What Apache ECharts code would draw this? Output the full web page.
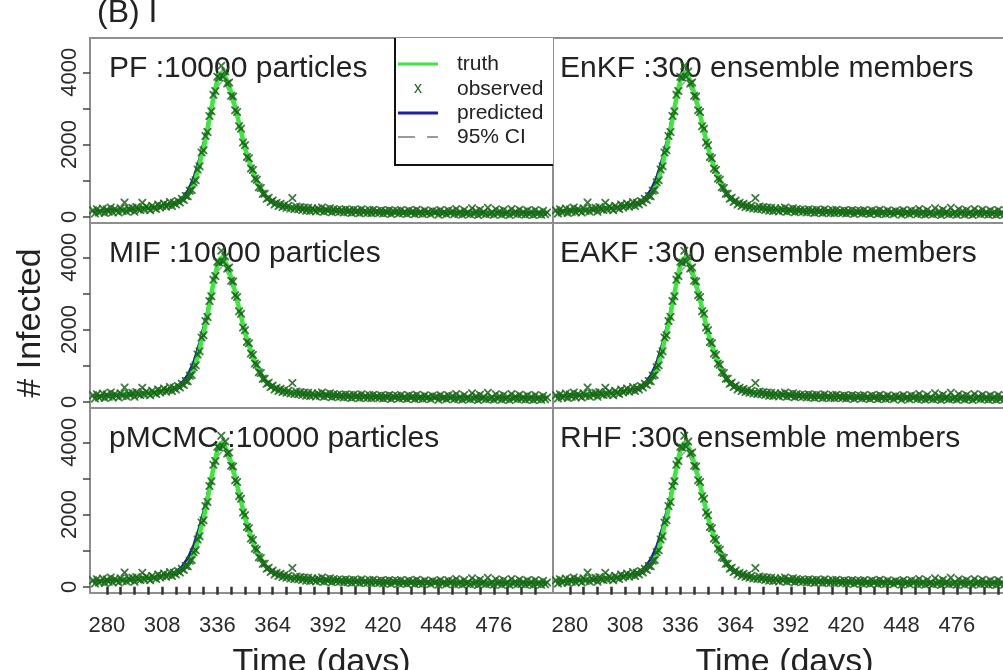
<!DOCTYPE html>
<html>
<head>
<meta charset="utf-8">
<script src="https://cdn.jsdelivr.net/npm/echarts@6/dist/echarts.min.js"></script>
<style>
  html, body { margin: 0; padding: 0; background: #ffffff; }
  #chart { width: 1003px; height: 670px; }
</style>
</head>
<body>
<div id="chart"></div>
<script>
// ---- data -------------------------------------------------------------
// daily series start at this day
const firstDay = 273;

// simulated number infected (truth), one value per day 273..503
const truth = [
  140,125,150,138,160,148,170,152,176,160, 182,168,190,175,198,182,205,190,212,198,
  220,206,230,214,238,224,246,234,255,244, 265,256,276,268,290,284,305,302,322,330,
  350,372,395,420,448,478,512,552,605,680, 780,905,1060,1245,1460,1700,1900,2150,2420,2700,
  3000,3290,3560,3780,3930,3990,
  3960,3880,3760,3610,3440,3250,3040,2820,2590,2360, 2130,1910,1730,1560,1400,1250,1110,985,870,765,
  675,600,540,490,448,412,382,356,334,316, 302,290,280,270,262,255,248,242,236,230,
  226,220,215,224,210,205,212,198,195,204, 190,186,194,180,178,186,172,170,178,165,
  162,170,158,155,163,150,148,156,145,142, 150,140,138,146,135,134,142,130,129,137,
  127,125,133,123,122,130,120,119,127,118, 116,124,115,114,122,113,112,120,111,110,
  118,110,109,116,108,107,115,106,106,113, 105,104,112,104,103,110,102,102,109,101,
  101,108,100,100,107,99,99,106,99,98, 105,98,98,104,97,97,103,97,96,102,
  96,96,101,95,95,100,95,94,99,94, 94,98,93,93,97,93,92,96,92,92, 95,91,91,94,90
];

// noisy daily observations, days 273..503
const observed = [
  180,95,210,120,150,230,110,205,140,260, 130,215,175,120,240,160,395,150,230,185,
  250,140,275,210,190,390,205,290,230,180, 310,250,220,345,260,300,370,280,330,410,
  300,390,345,440,400,500,470,580,570,720, 740,960,1010,1310,1400,1780,1840,2240,2350,2790,
  2920,3380,3480,3880,3850,4180,
  3880,4020,3690,3720,3350,3330,2950,2900,2510,2440, 2060,1980,1660,1620,1340,1300,1060,1030,820,800,
  640,640,500,530,410,450,340,390,300,360, 270,330,250,310,230,520,220,290,210,270,
  190,260,170,250,160,240,190,150,230,170, 260,140,210,160,240,130,220,150,200,140,
  190,120,210,130,190,110,200,130,180,100, 210,120,170,110,190,100,200,120,160,110,
  180,90,170,110,190,80,160,120,170,90, 190,100,150,80,180,110,160,70,200,90,
  150,80,180,100,140,70,170,120,150,60, 190,90,140,70,180,110,160,70,220,80,
  150,60,190,90,130,70,240,80,160,50, 200,90,140,70,250,80,130,60,210,90,
  160,60,190,80,140,50,220,90,150,70, 200,80,140,60,180,70,150,50,190,80, 130,60,170,70,120
];

// filtered estimates, every 3 days from day 273 to 501
const predStart = 273;
const predStep = 3;

const predictedPF = [
  160,165,175,180,190,195,205,215,228,240, 258,275,300,335,400,510,720,1080,1620,2260,
  3040,3760,3930,3590,3020,2350,1720,1240,870,610, 455,360,305,272,250,232,218,206,196,187,
  178,170,163,157,151,146,141,137,133,129, 126,123,120,118,116,114,112,110,108,107,
  105,104,103,102,101,100,99,98,97,96, 95,95,94,93,93,92,91
];
const predictedEnKF = [
  158,166,174,181,189,196,206,214,229,241, 257,276,301,336,405,520,740,1100,1640,2270,
  3060,3800,3940,3580,3010,2340,1715,1235,868,608, 452,358,304,271,249,231,217,205,195,186,
  177,170,163,157,151,146,141,137,133,129, 126,123,120,118,116,114,112,110,108,107,
  105,104,103,102,101,100,99,98,97,96, 95,95,94,93,93,92,91
];
const predictedMIF = [
  162,164,176,182,188,197,204,216,227,242, 259,274,302,338,410,530,750,1110,1650,2280,
  3050,3750,3900,3620,3030,2360,1725,1245,872,612, 456,361,306,273,251,233,219,207,197,188,
  179,171,164,158,152,147,142,138,134,130, 127,124,121,119,117,115,113,111,109,108,
  106,105,104,103,102,101,100,99,98,97, 96,96,95,94,94,93,92
];
const predictedEAKF = [
  159,165,175,181,190,195,205,215,228,240, 258,275,300,336,400,515,735,1090,1630,2265,
  3045,3770,3935,3585,3015,2345,1718,1238,869,609, 454,359,305,272,250,232,218,206,196,187,
  178,170,163,157,151,146,141,137,133,129, 126,123,120,118,116,114,112,110,108,107,
  105,104,103,102,101,100,99,98,97,96, 95,95,94,93,93,92,91
];
const predictedpMCMC = [
  165,168,178,184,192,198,208,218,231,244, 262,280,306,345,420,560,800,1160,1680,2300,
  3060,3740,3950,3600,3020,2350,1720,1240,872,612, 457,362,307,274,252,234,220,208,198,189,
  180,172,165,159,153,148,143,139,135,131, 128,125,122,120,118,116,114,112,110,109,
  107,106,105,104,103,102,101,100,99,98, 97,97,96,95,95,94,93
];
const predictedRHF = [
  161,166,176,182,191,196,206,216,229,242, 260,278,304,342,410,540,770,1130,1660,2290,
  3055,3780,3945,3595,3020,2350,1720,1240,870,610, 455,360,305,272,250,232,218,206,196,187,
  178,170,163,157,151,146,141,137,133,129, 126,123,120,118,116,114,112,110,108,107,
  105,104,103,102,101,100,99,98,97,96, 95,95,94,93,93,92,91
];

// 95% credible band, every 3 days from day 273 to 501
const ciLower = [
  125,130,140,145,155,160,170,178,190,200, 216,232,255,288,340,430,600,910,1420,2090,
  2880,3600,3780,3450,2890,2240,1630,1160,810,565, 418,328,276,245,224,208,195,184,175,167,
  159,152,146,140,135,130,126,122,118,115, 112,109,107,105,103,101,99,97,96,95,
  93,92,91,90,89,88,88,87,86,85, 84,84,83,82,82,81,80
];
const ciUpper = [
  195,200,210,215,225,230,240,252,266,280, 300,318,345,382,440,550,740,1090,1660,2370,
  3180,3920,4080,3730,3150,2460,1810,1320,930,655, 492,392,334,299,276,256,241,228,217,207,
  197,188,180,174,167,162,156,152,148,143, 140,137,133,131,129,127,125,123,120,119,
  117,116,115,114,113,112,110,109,108,107, 106,106,105,104,104,103,102
];

const panelLabels = [
  'PF :10000 particles', 'EnKF :300 ensemble members',
  'MIF :10000 particles', 'EAKF :300 ensemble members',
  'pMCMC :10000 particles', 'RHF :300 ensemble members'
];
const panelPredicted = [
  predictedPF, predictedEnKF, predictedMIF, predictedEAKF, predictedpMCMC, predictedRHF
];

const xTickDays = [280,287,294,301,308,315,322,329,336,343,350,357,364,371,378,385,
                   392,399,406,413,420,427,434,441,448,455,462,469,476,483,490,497];
const xLabelDays = [280,308,336,364,392,420,448,476];
const yTickValues = [0,1000,2000,3000,4000];
const yLabelValues = [0,2000,4000];

const legendNames = ['truth', 'observed', 'predicted', '95% CI'];
const titleText = '(B) I';
const yTitle = '# Infected';
const xTitle = 'Time (days)';

// ---- layout & styles --------------------------------------------------
const FONT = '"Liberation Sans", Arial, Helvetica, sans-serif';
const colLeft = [90, 553];
const rowTop = [38, 223, 408];
const panelW = 463, panelH = 185;
const xMin = 271.5, xMax = 506;
const yMin = -170, yMax = 4950;

const COL_TRUTH = '#3ee63e';
const COL_OBS = '#1a661a';
const COL_PRED = '#1e1ea6';
const COL_CI = '#9a9a9a';
const COL_BOX = '#8e8e8e';
const COL_TEXT = '#222222';

const xMark = 'path://M0,0L1.6,0L5,3.4L8.4,0L10,0L10,1.6L6.6,5L10,8.4L10,10L8.4,10L5,6.6L1.6,10L0,10L0,8.4L3.4,5L0,1.6Z';

function daily(vals) { return vals.map((v, i) => [firstDay + i, v]); }
function stepped(vals) { return vals.map((v, i) => [predStart + i * predStep, v]); }
function plainNumber(v) { return String(Math.round(v)); }

const grids = [], xAxes = [], yAxes = [], series = [], graphics = [];

panelLabels.forEach((label, i) => {
  const row = Math.floor(i / 2), col = i % 2;
  grids.push({
    left: colLeft[col], top: rowTop[row], width: panelW, height: panelH,
    containLabel: false, outerBoundsMode: 'none',
    show: true, borderColor: COL_BOX, borderWidth: 2, backgroundColor: 'transparent'
  });
  const bottom = row === 2;
  xAxes.push({
    gridIndex: i, type: 'value', min: xMin, max: xMax, show: bottom, offset: 3,
    axisLine: { show: false }, splitLine: { show: false },
    axisTick: { show: true, length: 8, customValues: xTickDays, lineStyle: { color: '#333', width: 2.5 } },
    axisLabel: { show: true, customValues: xLabelDays, fontSize: 22, color: '#2a2a2a', margin: 19,
                 fontFamily: FONT, formatter: plainNumber },
    name: bottom ? xTitle : '', nameLocation: 'middle', nameGap: 50,
    nameTextStyle: { fontSize: 34, color: COL_TEXT, fontFamily: FONT }
  });
  yAxes.push({
    gridIndex: i, type: 'value', min: yMin, max: yMax, show: col === 0,
    axisLine: { show: false }, splitLine: { show: false },
    axisTick: { show: true, length: 7, customValues: yTickValues, lineStyle: { color: '#444', width: 1.5 } },
    axisLabel: { show: true, customValues: yLabelValues, rotate: 90, margin: 9, fontSize: 22,
                 color: '#2a2a2a', fontFamily: FONT, formatter: plainNumber }
  });

  const common = { xAxisIndex: i, yAxisIndex: i, animation: false, silent: true };
  series.push(Object.assign({ type: 'line', name: '95% CI', data: stepped(ciLower), showSymbol: false,
    lineStyle: { color: COL_CI, width: 1.5, type: [8, 6] }, z: 2 }, common));
  series.push(Object.assign({ type: 'line', name: '95% CI', data: stepped(ciUpper), showSymbol: false,
    lineStyle: { color: COL_CI, width: 1.5, type: [8, 6] }, z: 2 }, common));
  series.push(Object.assign({ type: 'line', name: 'predicted', data: stepped(panelPredicted[i]), showSymbol: false,
    lineStyle: { color: COL_PRED, width: 2.5 }, z: 3 }, common));
  series.push(Object.assign({ type: 'line', name: 'truth', data: daily(truth), showSymbol: false,
    lineStyle: { color: COL_TRUTH, width: 4.5 }, z: 4 }, common));
  series.push(Object.assign({ type: 'scatter', name: 'observed', data: daily(observed),
    symbol: xMark, symbolSize: [8, 8], itemStyle: { color: COL_OBS, opacity: 0.85 }, z: 5 }, common));

  graphics.push({
    type: 'text', z: 1, silent: true,
    style: { text: label, x: colLeft[col] + (col === 0 ? 19 : 7), y: rowTop[row] + 31,
             font: '30px ' + FONT, fill: COL_TEXT, textVerticalAlign: 'middle' }
  });
});

// figure title and shared y title
graphics.push({
  type: 'text', silent: true,
  style: { text: titleText, x: 97, y: 13, font: '32px ' + FONT, fill: COL_TEXT, textVerticalAlign: 'middle' }
});
graphics.push({
  type: 'text', silent: true, x: 31, y: 323, rotation: Math.PI / 2,
  style: { text: yTitle, x: 0, y: 0, font: '34px ' + FONT, fill: COL_TEXT,
           textAlign: 'center', textVerticalAlign: 'middle' }
});

// legend box in the upper right of the first panel
const legendRows = [64, 89, 113, 137];
graphics.push({ type: 'rect', z: 20, silent: true, shape: { x: 395, y: 38, width: 158, height: 127 },
  style: { fill: '#ffffff' } });
graphics.push({ type: 'polyline', z: 21, silent: true, shape: { points: [[395, 38], [395, 165], [553, 165]] },
  style: { stroke: '#111111', lineWidth: 2, fill: null } });
graphics.push({ type: 'line', z: 21, silent: true, shape: { x1: 398, y1: legendRows[0], x2: 438, y2: legendRows[0] },
  style: { stroke: COL_TRUTH, lineWidth: 3 } });
graphics.push({ type: 'text', z: 21, silent: true,
  style: { text: 'x', x: 418, y: legendRows[1], font: '16px ' + FONT, fill: COL_OBS, textAlign: 'center', textVerticalAlign: 'middle' } });
graphics.push({ type: 'line', z: 21, silent: true, shape: { x1: 398, y1: legendRows[2], x2: 438, y2: legendRows[2] },
  style: { stroke: COL_PRED, lineWidth: 3 } });
graphics.push({ type: 'line', z: 21, silent: true, shape: { x1: 398, y1: legendRows[3], x2: 438, y2: legendRows[3] },
  style: { stroke: COL_CI, lineWidth: 2, lineDash: [17, 12] } });
legendNames.forEach((name, k) => {
  graphics.push({ type: 'text', z: 21, silent: true,
    style: { text: name, x: 457, y: legendRows[k], font: '21px ' + FONT, fill: COL_TEXT, textVerticalAlign: 'middle' } });
});

const chart = echarts.init(document.getElementById('chart'), null, { renderer: 'canvas' });
chart.setOption({
  backgroundColor: '#ffffff',
  animation: false,
  textStyle: { fontFamily: FONT },
  grid: grids,
  xAxis: xAxes,
  yAxis: yAxes,
  series: series,
  graphic: { elements: graphics }
});
</script>
</body>
</html>
